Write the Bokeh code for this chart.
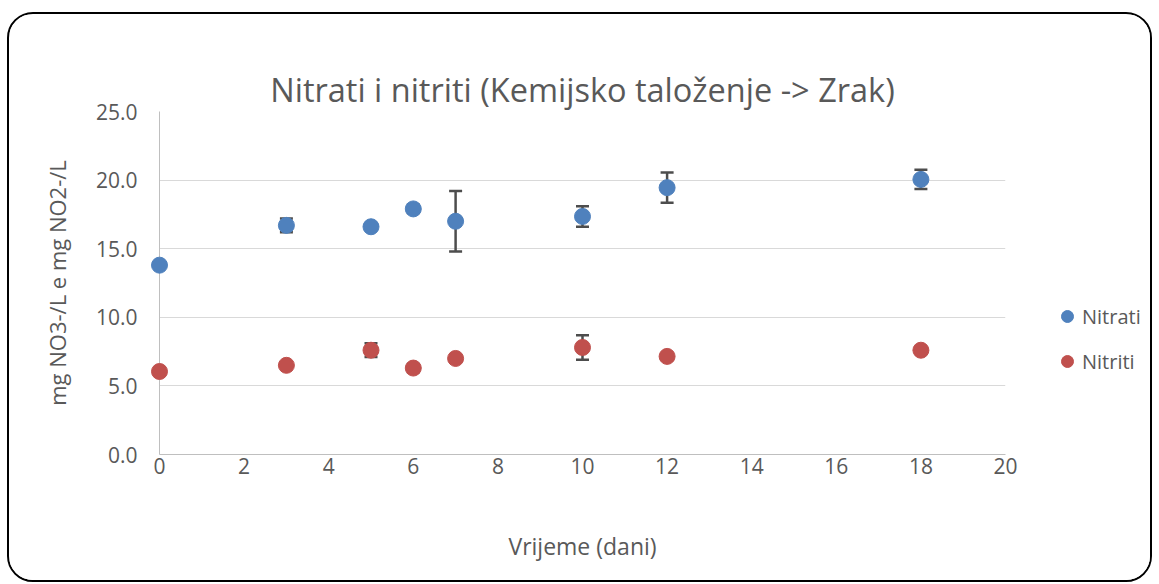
from bokeh.plotting import figure
from bokeh.layouts import row
from bokeh.models import (ColumnDataSource, Whisker, TeeHead, FixedTicker, NumeralTickFormatter,
                          Legend, LegendItem, Range1d, Title)
from bokeh.embed import file_html
from bokeh.resources import INLINE

# Data
days = [0, 3, 5, 6, 7, 10, 12, 18]
nitrati = [13.8, 16.7, 16.6, 17.9, 17.0, 17.35, 19.45, 20.05]
nitrati_err = [0.0, 0.5, 0.0, 0.3, 2.2, 0.75, 1.1, 0.7]
nitriti = [6.05, 6.5, 7.6, 6.3, 7.0, 7.8, 7.15, 7.6]
nitriti_err = [0.0, 0.0, 0.5, 0.3, 0.2, 0.9, 0.0, 0.0]
x_ticks = [0, 2, 4, 6, 8, 10, 12, 14, 16, 18, 20]
y_ticks = [0, 5, 10, 15, 20, 25]
series_names = ["Nitrati", "Nitriti"]

FONT = "Open Sans"
TXT = "#595959"
BLUE = "#4F81BD"
RED = "#C0504D"
ERR = "#4D4D4D"

src_a = ColumnDataSource(dict(x=days, y=nitrati,
                              lo=[v - e for v, e in zip(nitrati, nitrati_err)],
                              hi=[v + e for v, e in zip(nitrati, nitrati_err)]))
src_b = ColumnDataSource(dict(x=days, y=nitriti,
                              lo=[v - e for v, e in zip(nitriti, nitriti_err)],
                              hi=[v + e for v, e in zip(nitriti, nitriti_err)]))

p = figure(width=1011, height=566, output_backend="svg", toolbar_location=None,
           x_range=Range1d(0, 20), y_range=Range1d(0, 25),
           min_border_left=150, min_border_right=15, min_border_top=97, min_border_bottom=126)
p.outline_line_color = None
p.background_fill_color = "white"
p.border_fill_color = "white"

# title (outermost panel)
p.title.text = "Nitrati i nitriti (Kemijsko taloženje -> Zrak)"
p.title.align = "center"
p.title.text_font = FONT
p.title.text_font_size = "32.5px"
p.title.text_font_style = "normal"
p.title.text_color = TXT
p.title.standoff = 0
# invisible spacer panel between the title and the frame
p.add_layout(Title(text=" ", text_font_size="1px", text_alpha=0, standoff=31), "above")

# grid
p.xgrid.grid_line_color = None
p.ygrid.grid_line_color = "#D9D9D9"
p.ygrid.grid_line_width = 1
p.ygrid.ticker = FixedTicker(ticks=y_ticks)

# axes
for ax in (p.xaxis[0], p.yaxis[0]):
    ax.axis_line_color = "#BFBFBF"
    ax.axis_line_width = 1
    ax.major_tick_line_color = None
    ax.minor_tick_line_color = None
    ax.major_tick_out = 0
    ax.major_tick_in = 0
    ax.major_label_text_font = FONT
    ax.major_label_text_font_size = "21px"
    ax.major_label_text_color = TXT
    ax.axis_label_text_font = FONT
    ax.axis_label_text_font_style = "normal"
    ax.axis_label_text_color = TXT

p.xaxis.ticker = FixedTicker(ticks=x_ticks)
p.yaxis.ticker = FixedTicker(ticks=y_ticks)
p.yaxis.formatter = NumeralTickFormatter(format="0.0")
p.xaxis.major_label_standoff = 3
p.yaxis.major_label_standoff = 22
p.xaxis.axis_label = "Vrijeme (dani)"
p.yaxis.axis_label = "mg NO3-/L e mg NO2-/L"
p.xaxis.axis_label_text_font_size = "23px"
p.yaxis.axis_label_text_font_size = "22px"
p.xaxis.axis_label_standoff = 53
p.yaxis.axis_label_standoff = 21

# error bars
for src in (src_a, src_b):
    w = Whisker(source=src, base="x", lower="lo", upper="hi", line_color=ERR, line_width=2.5,
                upper_head=TeeHead(size=13, line_color=ERR, line_width=2.5),
                lower_head=TeeHead(size=13, line_color=ERR, line_width=2.5))
    p.add_layout(w)

p.scatter("x", "y", source=src_a, size=16, color=BLUE, line_color=BLUE, level="overlay")
p.scatter("x", "y", source=src_b, size=16, color=RED, line_color=RED, level="overlay")

# legend panel (separate small figure to the right; its frame is aligned with the main frame)
q = figure(width=130, height=566, output_backend="svg", toolbar_location=None,
           x_range=Range1d(0, 1), y_range=Range1d(0, 1),
           x_axis_location=None, y_axis_location=None,
           min_border_left=0, min_border_right=0, min_border_top=0, min_border_bottom=0)
q.outline_line_color = None
q.xgrid.visible = False
q.ygrid.visible = False
q.border_fill_color = "white"
# same sources; all points fall outside this panel's ranges so only the legend glyphs show
la = q.scatter("x", "y", source=src_a, size=16, color=BLUE, line_color=BLUE)
lb = q.scatter("x", "y", source=src_b, size=16, color=RED, line_color=RED)

legend = Legend(items=[LegendItem(label=series_names[0], renderers=[la]),
                       LegendItem(label=series_names[1], renderers=[lb])],
                location=(32, 78), orientation="vertical",
                label_text_font=FONT, label_text_font_size="20px", label_text_color=TXT,
                glyph_width=30, glyph_height=30, label_height=30, spacing=15,
                padding=0, margin=0, label_standoff=0,
                border_line_color=None, background_fill_alpha=0)
q.add_layout(legend, "center")

lay = row(p, q)
lay.styles = {"border": "2px solid #000000", "border-radius": "26px", "margin-top": "12px",
              "margin-left": "7px", "overflow": "hidden"}

open("out.html", "w").write(file_html(lay, INLINE))
